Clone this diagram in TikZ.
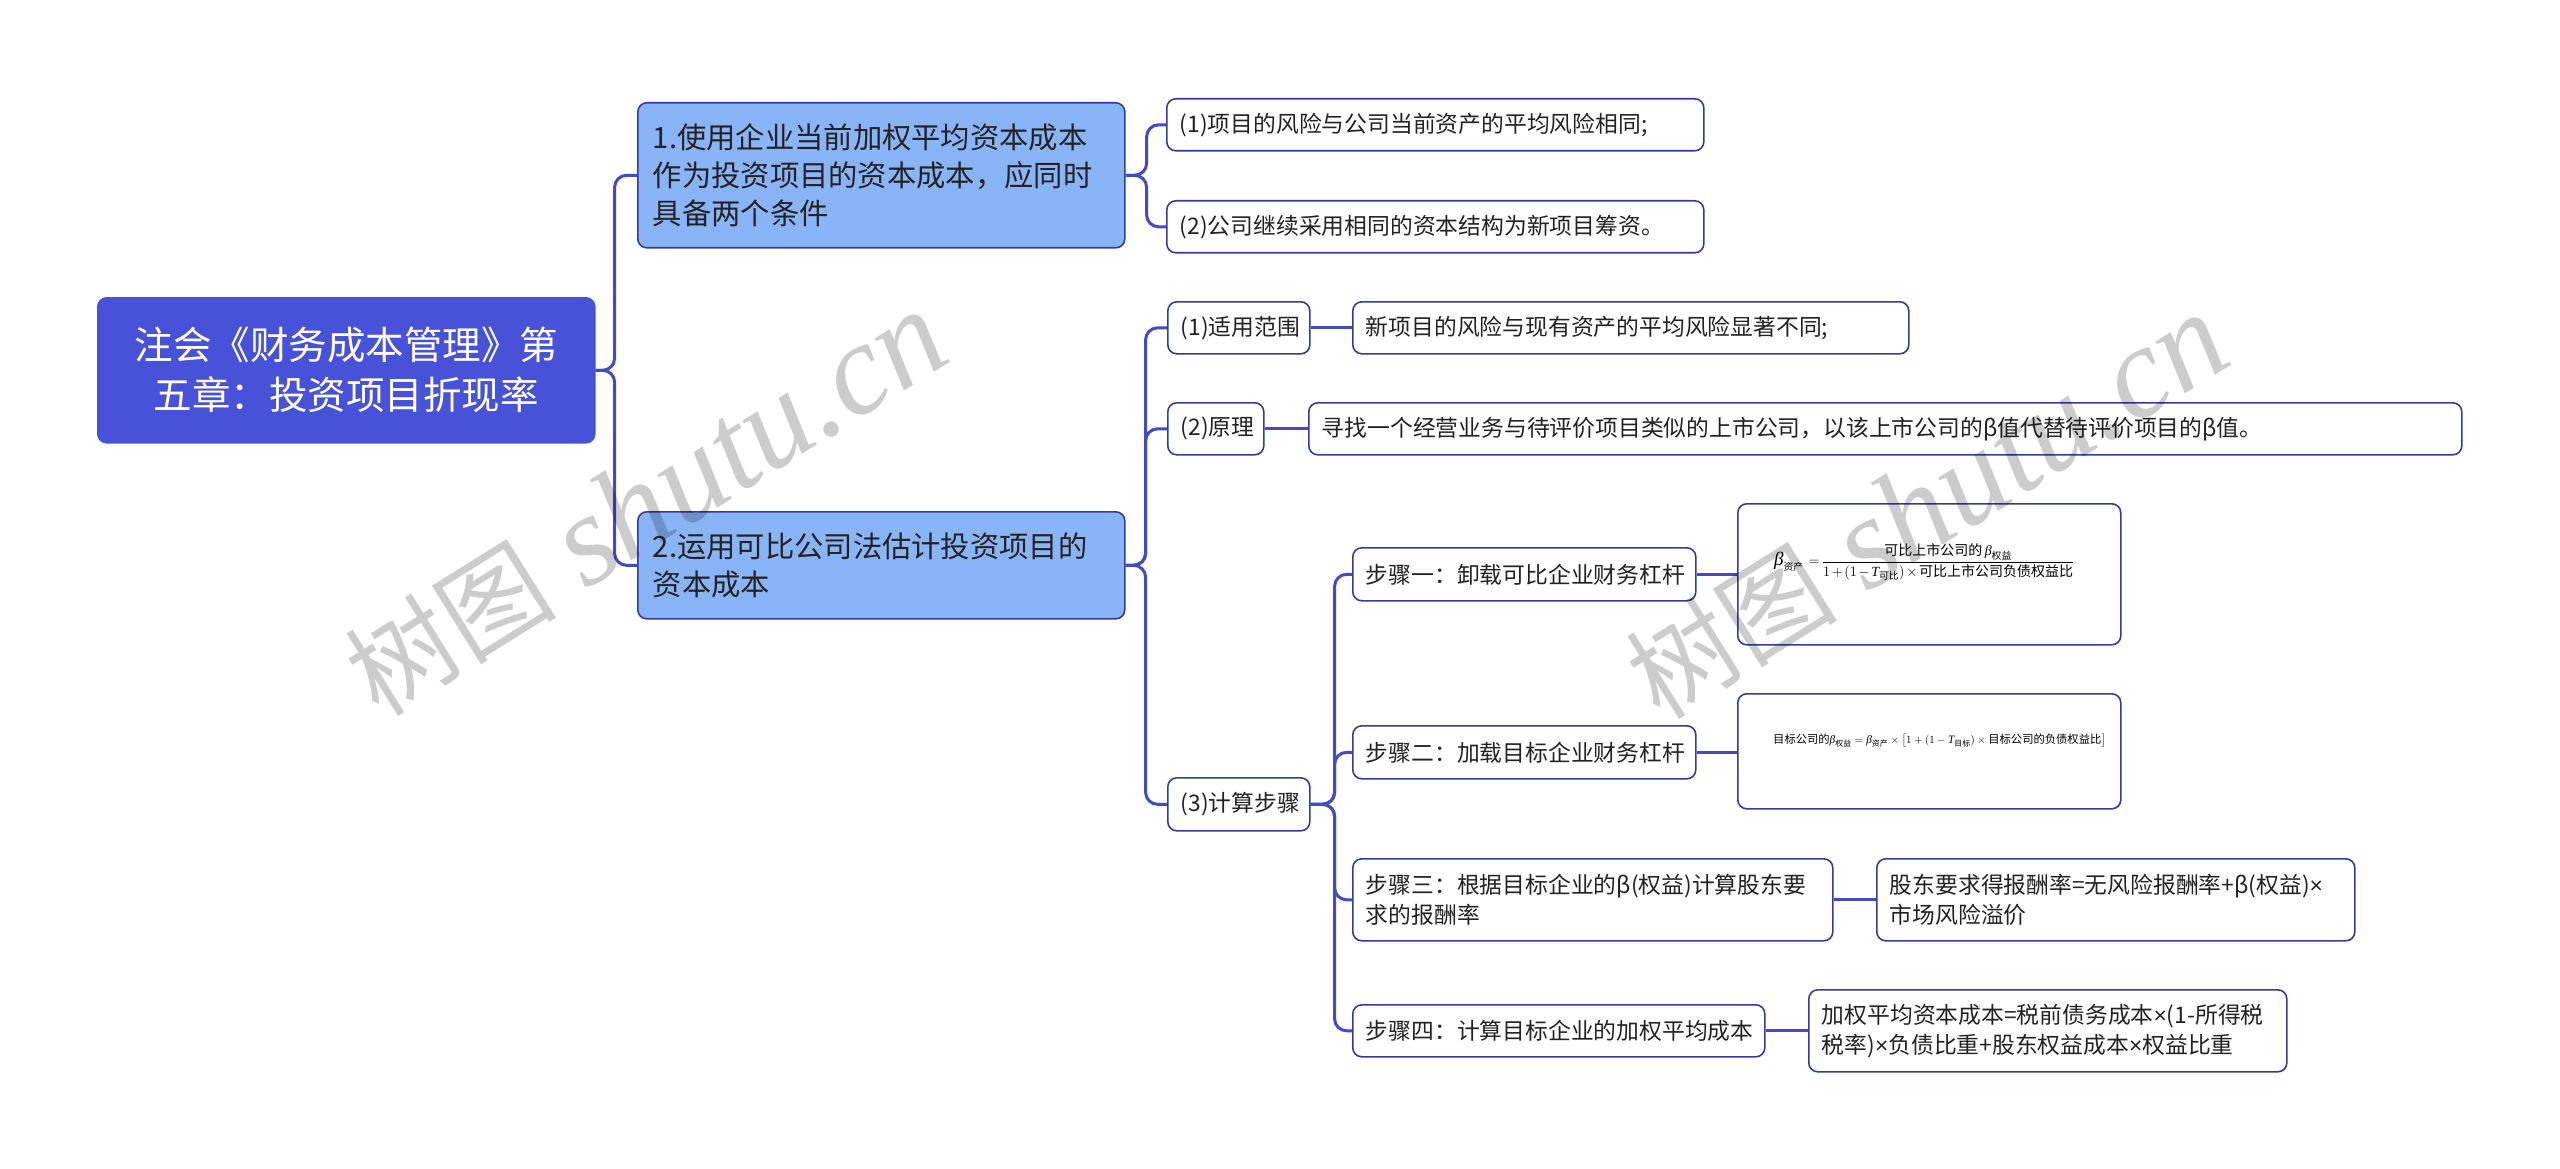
\documentclass[tikz,border=0pt]{standalone}
\usepackage{amsmath}
\usepackage{fontspec}
\setmainfont{Noto Sans CJK SC}
\newfontfamily\wmserif{Liberation Serif}
\newfontfamily\latinsans{Liberation Sans}
\newcommand\tms{{\latinsans ×}}
\newcommand\gbeta{\text{\wmserif\itshape β}}
\newcommand\bigbeta{\text{\wmserif\itshape\fontsize{19pt}{19pt}\selectfont β}}
\newcommand\gT{\text{\wmserif\itshape T}}
\definecolor{rootfill}{RGB}{72,82,216}
\definecolor{lineblue}{RGB}{66,74,196}
\definecolor{l1fill}{RGB}{138,180,248}
\definecolor{edgeblue}{RGB}{50,60,160}
\definecolor{txt}{RGB}{34,34,34}
\tikzset{
  base/.style={draw=edgeblue, line width=1.6pt, rounded corners=9pt, anchor=north west,
    inner xsep=13pt, inner ysep=0pt, align=left, text=txt},
  rootbox/.style={base, fill=rootfill, draw=rootfill, text=white, align=center,
    inner xsep=14pt, font=\fontsize{38.5pt}{50pt}\selectfont},
  lonebox/.style={base, fill=l1fill, inner xsep=15pt, font=\fontsize{29.3pt}{38pt}\selectfont},
  ltwobox/.style={base, fill=white, font=\fontsize{22.8pt}{30pt}\selectfont},
  fbox/.style={base, fill=white},
  conn/.style={draw=lineblue, line width=3pt, rounded corners=12pt},
  wmark/.style={text=black, text opacity=0.2, rotate=32, inner sep=0pt,
    font=\fontsize{106pt}{125pt}\selectfont},
}
\newcommand\wmtext{树图\hspace{30pt}{\wmserif\itshape\fontsize{130pt}{140pt}\selectfont shutu.cn}}
\begin{document}
\begin{tikzpicture}[x=1pt,y=-1pt]
\useasboundingbox (0,0) rectangle (2560,1169);
\fill[white] (0,0) rectangle (2560,1169);

% root
\node[rootbox, text width=469pt, minimum height=145pt] (root) at (97,297)
  {注会《财务成本管理》第\\五章：投资项目折现率};

% level 1
\node[lonebox, text width=457pt, minimum height=145pt] (La) at (637,102)
  {1.使用企业当前加权平均资本成本\\作为投资项目的资本成本，应同时\\具备两个条件};
\node[lonebox, text width=457pt, minimum height=107pt] (Lb) at (637,511)
  {2.运用可比公司法估计投资项目的\\资本成本};

% children of La
\node[ltwobox, text width=511pt, minimum height=52pt] (ca) at (1166,98)
  {(1)项目的风险与公司当前资产的平均风险相同;};
\node[ltwobox, text width=511pt, minimum height=52pt] (cb) at (1166,200)
  {(2)公司继续采用相同的资本结构为新项目筹资。};

% children of Lb
\node[ltwobox, text width=116pt, minimum height=52pt] (da) at (1167,301) {(1)适用范围};
\node[ltwobox, text width=530pt, minimum height=52pt] (daa) at (1352,301)
  {新项目的风险与现有资产的平均风险显著不同;};
\node[ltwobox, text width=70pt, minimum height=52pt] (db) at (1167,402) {(2)原理};
\node[ltwobox, text width=1127pt, minimum height=52pt] (dbb) at (1308,402)
  {寻找一个经营业务与待评价项目类似的上市公司，以该上市公司的β值代替待评价项目的β值。};
\node[ltwobox, text width=116pt, minimum height=53pt] (dc) at (1167,777) {(3)计算步骤};

% steps
\node[ltwobox, text width=317pt, minimum height=53pt] (sa) at (1352,547)
  {步骤一：卸载可比企业财务杠杆};
\node[fbox, minimum width=383pt, minimum height=141pt] (fa) at (1737,503) {};
\node[ltwobox, text width=317pt, minimum height=53pt] (sb) at (1352,725)
  {步骤二：加载目标企业财务杠杆};
\node[fbox, minimum width=383pt, minimum height=115pt] (fb) at (1737,693) {};
\node[ltwobox, text width=454pt, minimum height=82pt] (sc) at (1352,858)
  {步骤三：根据目标企业的β(权益)计算股东要\\求的报酬率};
\node[ltwobox, text width=452pt, minimum height=82pt] (scc) at (1876,858)
  {股东要求得报酬率=无风险报酬率+β(权益)\tms\\市场风险溢价};
\node[ltwobox, text width=386pt, minimum height=52pt] (sd) at (1352,1004)
  {步骤四：计算目标企业的加权平均成本};
\node[ltwobox, text width=452pt, minimum height=82pt] (sdd) at (1808,989)
  {加权平均资本成本=税前债务成本\tms(1-所得税\\税率)\tms 负债比重+股东权益成本\tms 权益比重};

% formulas
\node[anchor=west, inner sep=0pt, text=black, font=\fontsize{14pt}{17pt}\selectfont] (fat) at (1774,562)
  {\medmuskip=2mu \thickmuskip=3mu $\bigbeta_{\text{资产}}\,=\dfrac{\text{可比上市公司的}\,\gbeta_{\text{权益}}}{1+(1-\gT_{\text{可比}})\times\text{可比上市公司负债权益比}}$};
\node[anchor=west, inner sep=0pt, text=black, font=\fontsize{11.3pt}{13pt}\selectfont] (fbt) at (1773,741)
  {目标公司的$\gbeta_{\text{权益}}=\gbeta_{\text{资产}}\times\big[1+(1-\gT_{\text{目标}})\times\text{目标公司的负债权益比}\big]$};

% connectors
\draw[conn] (root.east) -- ++(19,0) |- (La.west);
\draw[conn] (root.east) -- ++(19,0) |- (Lb.west);
\draw[conn] (La.east) -- ++(21,0) |- (ca.west);
\draw[conn] (La.east) -- ++(21,0) |- (cb.west);
\draw[conn] (Lb.east) -- ++(20,0) |- (da.west);
\draw[conn] (Lb.east) -- ++(20,0) |- (db.west);
\draw[conn] (Lb.east) -- ++(20,0) |- (dc.west);
\draw[conn] (da.east) -- (da.east -| daa.west);
\draw[conn] (db.east) -- (db.east -| dbb.west);
\draw[conn] (dc.east) -- ++(24,0) |- (sa.west);
\draw[conn] (dc.east) -- ++(24,0) |- (sb.west);
\draw[conn] (dc.east) -- ++(24,0) |- (sc.west);
\draw[conn] (dc.east) -- ++(24,0) |- (sd.west);
\draw[conn] (sa.east) -- (sa.east -| fa.west);
\draw[conn] (sb.east) -- (sb.east -| fb.west);
\draw[conn] (sc.east) -- (sc.east -| scc.west);
\draw[conn] (sd.east) -- (sd.east -| sdd.west);

% watermarks
\node[wmark] (wma) at (646,504) {\wmtext};
\node[wmark] (wmb) at (1927,507) {\wmtext};
\end{tikzpicture}
\end{document}
